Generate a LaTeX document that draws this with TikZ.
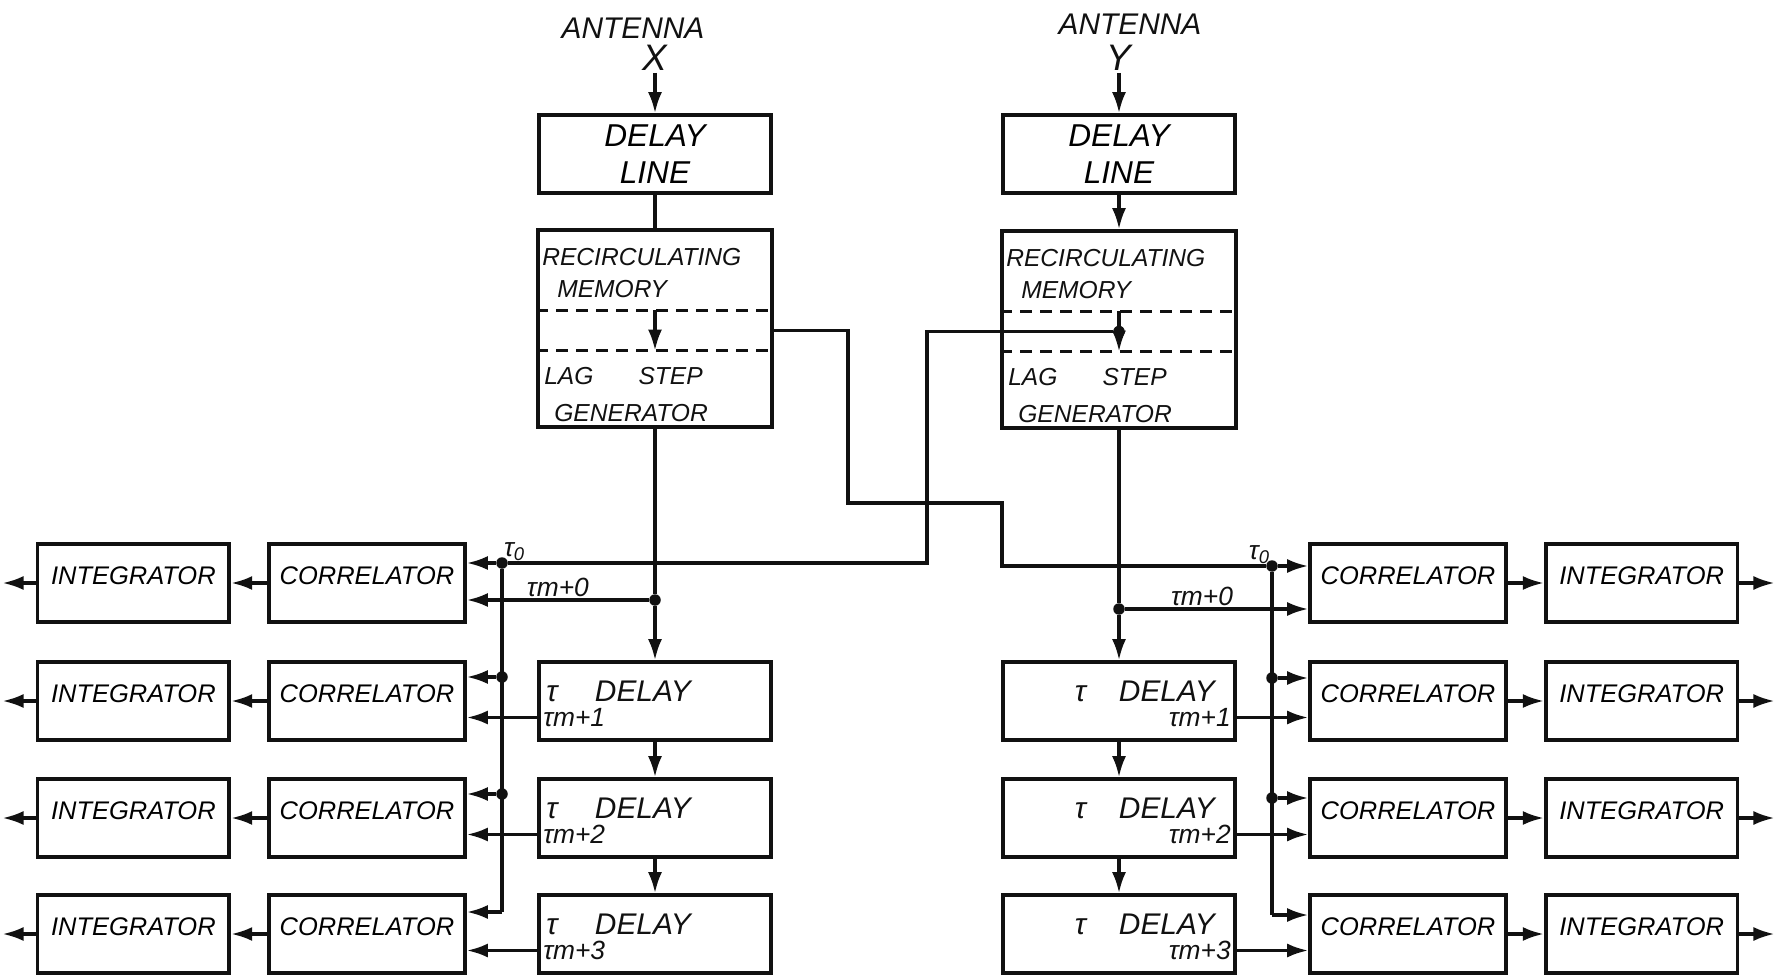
\documentclass[tikz,border=0pt]{standalone}
\usepackage{fontspec}
\setmainfont{Liberation Sans}
\usetikzlibrary{arrows.meta,positioning,calc}
\definecolor{Tinta}{HTML}{111111}

\begin{document}
\begin{tikzpicture}[x=0.02cm,y=-0.02cm,node distance=7.6mm and 7.2mm,
        bloque/.style={draw=Tinta,line width=2.1pt,minimum height=1.56cm,inner sep=0pt},
        corr/.style={bloque,minimum width=3.92cm,text depth=0.3cm,font=\fontsize{14.5}{16}\selectfont\itshape},
        integ/.style={bloque,minimum width=3.84cm,text depth=0.3cm,font=\fontsize{14.5}{16}\selectfont\itshape},
        caja/.style={bloque,minimum width=4.64cm,align=center,font=\fontsize{18}{21}\selectfont\itshape},
        retardo/.style={bloque,minimum width=4.64cm},
        memoria/.style={bloque,minimum width=4.68cm,minimum height=3.94cm},
        rotulo/.style={inner sep=1pt,text=Tinta,font=\fontsize{17}{20}\selectfont\itshape},
        chico/.style={inner sep=1pt,text=Tinta,font=\fontsize{15}{17}\selectfont\itshape},
        texto/.style={inner sep=1pt,text=Tinta,align=left,font=\fontsize{14}{18}\selectfont\itshape},
        flecha/.style={-{Latex[length=4.2mm,width=2.8mm]},line width=1.8pt,draw=Tinta},
        linea/.style={line width=1.8pt,draw=Tinta},
        rayas/.style={linea,dash pattern=on 2.4mm off 1.6mm},
        punto/.style={circle,fill=Tinta,inner sep=0pt,minimum size=2.3mm}]
        \useasboundingbox (0,0) rectangle (1777,976);
        \node[rotulo] (antX) at (633,28) {ANTENNA};
        \node[rotulo,font=\fontsize{21}{24}\selectfont\itshape] (fteX) at (655,58) {X};
        \node[caja] (dlX) at (655,154) {DELAY\\LINE};
        \node[memoria] (rmX) at (655,328.5) {};
        \node[rotulo] (antY) at (1130,24) {ANTENNA};
        \node[rotulo,font=\fontsize{21}{24}\selectfont\itshape] (fteY) at (1119,58) {Y};
        \node[caja] (dlY) at (1119,154) {DELAY\\LINE};
        \node[memoria] (rmY) at (1119,329.5) {};
        \foreach \m in {X,Y} {
          \coordinate (m\m a) at ($(rm\m.north)!0.41!(rm\m.south)$);
          \coordinate (m\m b) at ($(rm\m.north)!0.61!(rm\m.south)$);
          \coordinate (m\m c) at ($(m\m a)!0.5!(m\m b)$);
          \draw[rayas] (rm\m.west |- m\m a) -- (rm\m.east |- m\m a);
          \draw[rayas] (rm\m.west |- m\m b) -- (rm\m.east |- m\m b);
          \draw[flecha] (m\m a) -- (m\m b);
          \node[texto,anchor=north west] (rec\m) at ($(rm\m.north west)+(0.08cm,-0.36cm)$) {RECIRCULATING\\\hspace*{3mm}MEMORY};
          \node[texto,anchor=south west,font=\fontsize{14}{21}\selectfont\itshape] (lag\m) at ($(rm\m.south west)+(0.12cm,0.1cm)$) {LAG\hspace{0.9cm}STEP\\\hspace*{2mm}GENERATOR};
        }
        \foreach \i/\r in {0/583,1/701,2/818,3/934} {
          \node[corr] (corL\i) at (367,\r) {CORRELATOR};
          \node[integ,left=of corL\i] (intL\i) {INTEGRATOR};
          \coordinate (oL\i) at ($(intL\i.west)+(-0.66cm,0)$);
          \node[corr] (corR\i) at (1408,\r) {CORRELATOR};
          \node[integ,right=of corR\i] (intR\i) {INTEGRATOR};
          \coordinate (oR\i) at ($(intR\i.east)+(0.7cm,0)$);
          \draw[flecha] (corL\i) -- (intL\i);
          \draw[flecha] (intL\i) -- (oL\i);
          \draw[flecha] (corR\i) -- (intR\i);
          \draw[flecha] (intR\i) -- (oR\i);
        }
        \foreach \i/\r in {1/701,2/818,3/934} {
          \node[retardo] (tdX\i) at (655,\r) {};
          \node[rotulo,anchor=base west] (hX\i) at ($(tdX\i.west)+(0.14cm,0)$) {τ\hspace{0.75cm}DELAY};
          \node[chico,anchor=west] (mX\i) at ($(tdX\i.west)+(0.08cm,-0.33cm)$) {τm+\i};
          \draw[flecha] (tdX\i.west |- mX\i) -- (corL\i.east |- mX\i);
          \node[retardo] (tdY\i) at (1119,\r) {};
          \node[rotulo,anchor=base east] (hY\i) at ($(tdY\i.east)+(-0.4cm,0)$) {τ\hspace{0.66cm}DELAY};
          \node[chico,anchor=east] (mY\i) at ($(tdY\i.east)+(-0.08cm,-0.33cm)$) {τm+\i};
          \draw[flecha] (tdY\i.east |- mY\i) -- (corR\i.west |- mY\i);
        }
        \draw[flecha] (fteX) -- (dlX);
        \draw[linea] (dlX) -- (rmX);
        \draw[flecha] (fteY) -- (dlY);
        \draw[flecha] (dlY) -- (rmY);
        \node[punto] (dX) at (655,600) {};
        \node[punto] (dY) at (1119,609) {};
        \draw[linea] (rmX) -- (dX);
        \draw[linea] (rmY) -- (dY);
        \draw[flecha] (dX) -- (tdX1);
        \draw[flecha] (dY) -- (tdY1);
        \draw[flecha] (tdX1) -- (tdX2);
        \draw[flecha] (tdX2) -- (tdX3);
        \draw[flecha] (tdY1) -- (tdY2);
        \draw[flecha] (tdY2) -- (tdY3);
        \draw[flecha] (dX) -- (corL0.east |- dX) node[chico,midway,above] (lmX) {τm+0};
        \draw[flecha] (dY) -- (corR0.west |- dY) node[chico,pos=0.42,above] (lmY) {τm+0};
        \node[punto] (bL0) at (502,563) {};
        \node[punto] (bL1) at (502,677) {};
        \node[punto] (bL2) at (502,794) {};
        \coordinate (bL3) at (502,912);
        \node[punto] (bR0) at (1272,566) {};
        \node[punto] (bR1) at (1272,678) {};
        \node[punto] (bR2) at (1272,798) {};
        \coordinate (bR3) at (1272,915);
        \draw[linea] (bL0) -- (bL3);
        \draw[linea] (bR0) -- (bR3);
        \foreach \i in {0,1,2,3} {
          \draw[flecha] (bL\i) -- (corL\i.east |- bL\i);
          \draw[flecha] (bR\i) -- (corR\i.west |- bR\i);
        }
        \node[chico,anchor=south west] (t0L) at (bL0) {τ\textsubscript{0}};
        \node[chico,anchor=south east] (t0R) at (bR0) {τ\textsubscript{0}};
        \node[punto] (pY) at (mYc) {};
        \draw[linea] (rmX.east |- mXc) -| (848,503) -| (1002,566) -- (bR0);
        \draw[linea] (bL0) -- (927,563) |- (pY);
      \end{tikzpicture}
\end{document}
